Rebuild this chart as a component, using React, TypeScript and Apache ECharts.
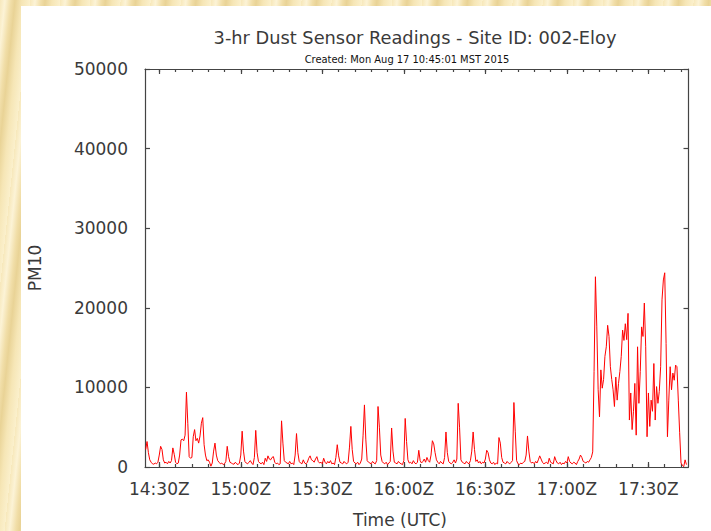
import React, { useEffect, useRef } from "react";
import * as echarts from "echarts";

// PM10 readings, one every 30 s starting 14:25:00 UTC
const START_MIN = 25; // minutes after 14:00 UTC
const STEP_MIN = 0.5;
const pm10 = [
  2200, 3200, 1800, 900, 600, 400, 350, 500, 400, 600,
  1500, 2600, 2200, 900, 500, 600, 400, 700, 500, 800,
  2400, 1600, 600, 400, 500, 1500, 3400, 3500, 3300, 4000,
  9400, 5500, 1300, 1100, 1200, 3800, 4700, 3300, 3600, 3000,
  3900, 5500, 6200, 2800, 1500, 800, 900, 600, 100, 500,
  2000, 3000, 1500, 800, 600, 400, 500, 300, 400, 700,
  2600, 1300, 600, 500, 400, 350, 600, 400, 300, 500,
  1500, 4500, 2000, 700, 500, 400, 600, 800, 500, 300,
  1200, 4600, 1800, 700, 500, 400, 600, 300, 1100, 700,
  1400, 1000, 900, 1200, 1300, 600, 400, 500, 300, 400,
  5800, 3000, 800, 600, 500, 400, 700, 400, 500, 300,
  1500, 4200, 1800, 700, 500, 400, 900, 500, 400, 600,
  1100, 1400, 900, 800, 600, 1000, 1300, 700, 500, 600,
  400, 1100, 600, 400, 700, 500, 800, 400, 500, 300,
  1200, 2800, 1400, 600, 500, 400, 700, 500, 400, 600,
  2500, 5100, 2200, 700, 500, 400, 600, 300, 500, 1000,
  4000, 7800, 3500, 800, 600, 500, 400, 700, 500, 400,
  800, 7600, 5000, 1500, 700, 500, 400, 600, 300, 500,
  700, 4900, 2000, 600, 500, 400, 700, 500, 400, 300,
  800, 6100, 3200, 900, 500, 600, 400, 800, 500, 400,
  600, 2100, 800, 500, 700, 1000, 600, 1200, 800, 600,
  1500, 3300, 2900, 1800, 900, 600, 400, 700, 500, 400,
  1200, 4400, 1800, 700, 500, 400, 600, 900, 500, 1000,
  8000, 5000, 900, 600, 500, 400, 700, 500, 400, 800,
  2000, 4400, 2200, 700, 900, 500, 700, 400, 600, 500,
  1000, 2100, 1800, 900, 500, 400, 600, 300, 500, 400,
  3700, 3000, 1200, 600, 500, 400, 700, 500, 400, 600,
  800, 8100, 4500, 800, 400, 300, 500, 400, 600, 700,
  1500, 3900, 2000, 700, 500, 600, 400, 700, 500, 900,
  1400, 1000, 600, 400, 500, 600, 400, 1100, 600, 500,
  400, 1300, 800, 500, 400, 600, 300, 500, 400, 700,
  500, 1300, 700, 500, 400, 600, 500, 300, 700, 1000,
  1500, 1200, 700, 600, 500, 700, 600, 900, 1200, 1900,
  12000, 23900, 17600, 9700, 6300, 12200, 9900, 11000, 13900, 15100,
  17800, 16400, 12600, 11000, 9700, 7600, 11300, 8400, 10500, 12000,
  13900, 17200, 15900, 18000, 16000, 19300, 5900, 9300, 4700, 7000,
  10500, 4000, 15100, 8000, 12000, 17600, 16400, 20600, 15100, 3800,
  9300, 5100, 8400, 7000, 13000, 5900, 10100, 8000, 9500, 12600,
  21000, 23500, 24400, 15500, 3800, 8400, 12600, 9700, 11800, 10900,
  12800, 12600, 8400, 4300, 500, 200, 50, 900, 300,
];

const X_MIN = 24.75; // 14:24:45 UTC
const X_MAX = 224.75; // 17:44:45 UTC
const majorTicks = [30, 60, 90, 120, 150, 180, 210];
const minorTicks = [
  30, 36, 42, 48, 54, 60, 66, 72, 78, 84, 90, 96, 102, 108, 114, 120, 126,
  132, 138, 144, 150, 156, 162, 168, 174, 180, 186, 192, 198, 204, 210, 216, 222,
];
const Y_MIN = 0;
const Y_MAX = 50000;
const Y_STEP = 10000;

const TITLE = "3-hr Dust Sensor Readings - Site ID: 002-Eloy";
const SUBTITLE = "Created: Mon Aug 17 10:45:01 MST 2015";
const Y_NAME = "PM10";
const X_NAME = "Time (UTC)";

const FONT = "'DejaVu Sans', Verdana, sans-serif";
const AXIS_COLOR = "#444";
const TEXT_COLOR = "#3a3a3a";

function fmtTime(v: number): string {
  const h = 14 + Math.floor(v / 60);
  const m = Math.round(v % 60);
  return `${h}:${String(m).padStart(2, "0")}Z`;
}

export default function App() {
  const ref = useRef<HTMLDivElement>(null);

  useEffect(() => {
    if (!ref.current) return;
    const chart = echarts.init(ref.current, undefined, { renderer: "svg" });
    const data = pm10.map((v, i) => [START_MIN + i * STEP_MIN, v]);

    const baseX = (position: "top" | "bottom", ticks: number[], len: number, labels: boolean, line: boolean) => ({
      type: "value" as const,
      position,
      min: X_MIN,
      max: X_MAX,
      splitLine: { show: false },
      axisLine: { show: line, lineStyle: { color: AXIS_COLOR, width: 1.2 } },
      axisTick: {
        show: true,
        inside: true,
        length: len,
        customValues: ticks,
        lineStyle: { color: AXIS_COLOR, width: 1.2 },
      },
      axisLabel: labels
        ? {
            show: true,
            customValues: ticks,
            formatter: (v: number) => fmtTime(v),
            color: TEXT_COLOR,
            fontFamily: FONT,
            fontSize: 17,
            margin: 13,
          }
        : { show: false },
    });

    const baseY = (position: "left" | "right", labels: boolean) => ({
      type: "value" as const,
      position,
      min: Y_MIN,
      max: Y_MAX,
      interval: Y_STEP,
      splitLine: { show: false },
      axisLine: { show: true, lineStyle: { color: AXIS_COLOR, width: 1.2 } },
      axisTick: { show: true, inside: true, length: 5, lineStyle: { color: AXIS_COLOR, width: 1.2 } },
      axisLabel: labels
        ? {
            show: true,
            color: TEXT_COLOR,
            fontFamily: FONT,
            fontSize: 17,
            margin: 17,
            formatter: (v: number) => String(v),
          }
        : { show: false },
    });

    chart.setOption({
      animation: false,
      backgroundColor: "#ffffff",
      grid: {
        left: 124,
        right: 22.5,
        top: 63,
        bottom: 64,
        outerBoundsMode: "none",
        containLabel: false,
      },
      xAxis: [
        baseX("bottom", majorTicks, 5, true, true),
        baseX("bottom", minorTicks, 3, false, false),
        baseX("top", majorTicks, 5, false, true),
        baseX("top", minorTicks, 3, false, false),
      ],
      yAxis: [baseY("left", true), baseY("right", false)],
      series: [
        {
          type: "line",
          xAxisIndex: 0,
          yAxisIndex: 0,
          data,
          showSymbol: false,
          symbol: "none",
          lineStyle: { color: "#ff0000", width: 1 },
          itemStyle: { color: "#ff0000" },
          clip: true,
        },
      ],
      graphic: [
        {
          type: "text",
          x: 394,
          y: 31,
          style: {
            text: TITLE,
            fill: TEXT_COLOR,
            fontFamily: FONT,
            fontSize: 17.8,
            align: "center",
            verticalAlign: "middle",
            textAlign: "center",
            textVerticalAlign: "middle",
          },
        },
        {
          type: "text",
          x: 386,
          y: 53,
          style: {
            text: SUBTITLE,
            fill: "#111",
            fontFamily: "'Liberation Sans Narrow', 'DejaVu Sans Condensed', 'Liberation Sans', sans-serif",
            fontSize: 11,
            align: "center",
            verticalAlign: "middle",
            textAlign: "center",
            textVerticalAlign: "middle",
          },
        },
        {
          type: "text",
          x: 14,
          y: 262,
          rotation: Math.PI / 2,
          style: {
            text: Y_NAME,
            fill: TEXT_COLOR,
            fontFamily: FONT,
            fontSize: 17,
            align: "center",
            verticalAlign: "middle",
            textAlign: "center",
            textVerticalAlign: "middle",
          },
        },
        {
          type: "text",
          x: 379,
          y: 514,
          style: {
            text: X_NAME,
            fill: TEXT_COLOR,
            fontFamily: FONT,
            fontSize: 17,
            align: "center",
            verticalAlign: "middle",
            textAlign: "center",
            textVerticalAlign: "middle",
          },
        },
      ],
    });

    return () => chart.dispose();
  }, []);

  return (
    <div
      style={{
        position: "absolute",
        left: 0,
        top: 0,
        width: 711,
        height: 531,
        overflow: "hidden",
        backgroundColor: "#f5e5b5",
        backgroundImage:
          "repeating-linear-gradient(96deg, #f7e8bb 0px, #fcf3d6 5px, #f1dea8 11px, #e9d396 15px, #f6e6b6 22px, #fbf0cc 30px)",
      }}
    >
      <div
        ref={ref}
        style={{ position: "absolute", left: 21, top: 6, width: 690, height: 525, background: "#fff" }}
      />
    </div>
  );
}
